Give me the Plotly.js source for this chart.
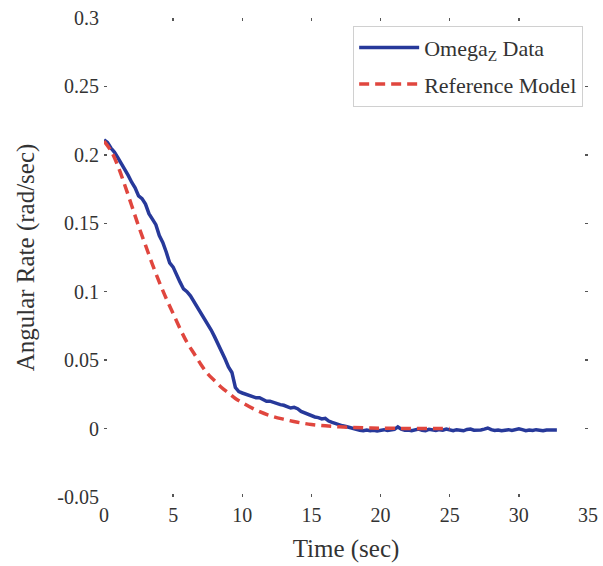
<!DOCTYPE html>
<html>
<head>
<meta charset="utf-8">
<script src="https://cdn.plot.ly/plotly-3.0.1.min.js"></script>
<style>
  html, body { margin: 0; padding: 0; background: #ffffff; }
  #chart { width: 603px; height: 566px; }
</style>
</head>
<body>
<div id="chart"></div>
<script>
// Measured yaw rate (Omega_Z), sampled every 0.25 s
const timeData = [
  0, 0.25, 0.5, 0.75, 1, 1.25, 1.5, 1.75, 2, 2.25, 2.5, 2.75, 3, 3.25, 3.5, 3.75,
  4, 4.25, 4.5, 4.75, 5, 5.25, 5.5, 5.75, 6, 6.25, 6.5, 6.75, 7, 7.25, 7.5, 7.75,
  8, 8.25, 8.5, 8.75, 9, 9.25, 9.5, 9.75, 10, 10.25, 10.5, 10.75, 11, 11.25, 11.5, 11.75,
  12, 12.25, 12.5, 12.75, 13, 13.25, 13.5, 13.75, 14, 14.25, 14.5, 14.75, 15, 15.25, 15.5, 15.75,
  16, 16.25, 16.5, 16.75, 17, 17.25, 17.5, 17.75, 18, 18.25, 18.5, 18.75, 19, 19.25, 19.5, 19.75,
  20, 20.25, 20.5, 20.75, 21, 21.25, 21.5, 21.75, 22, 22.25, 22.5, 22.75, 23, 23.25, 23.5, 23.75,
  24, 24.25, 24.5, 24.75, 25, 25.25, 25.5, 25.75, 26, 26.25, 26.5, 26.75, 27, 27.25, 27.5, 27.75,
  28, 28.25, 28.5, 28.75, 29, 29.25, 29.5, 29.75, 30, 30.25, 30.5, 30.75, 31, 31.25, 31.5, 31.75,
  32, 32.25, 32.5, 32.75
];
const omegaZ = [
  0.211, 0.209, 0.205, 0.202, 0.198, 0.194, 0.190, 0.185, 0.180, 0.176, 0.170, 0.168, 0.164, 0.157, 0.153, 0.149,
  0.141, 0.136, 0.129, 0.121, 0.118, 0.112, 0.107, 0.102, 0.100, 0.097, 0.093, 0.089, 0.085, 0.081, 0.077, 0.072,
  0.067, 0.062, 0.056, 0.051, 0.045, 0.041, 0.030, 0.027, 0.026, 0.025, 0.024, 0.0235, 0.0225, 0.0225, 0.021, 0.020,
  0.020, 0.019, 0.0185, 0.0175, 0.017, 0.016, 0.015, 0.0155, 0.0145, 0.0125, 0.0115, 0.010, 0.009, 0.0085, 0.008, 0.007,
  0.0075, 0.0055, 0.0045, 0.0035, 0.003, 0.002, 0.0015, 0.0008, 0.0, -0.001, -0.0012, -0.0015, -0.001, -0.0015, -0.0012, -0.0018,
  -0.0012, -0.0008, -0.0014, -0.001, -0.0006, 0.0012, -0.0004, -0.0012, -0.001, -0.0016, -0.0008, -0.0004, -0.0012, -0.0015, -0.0006, -0.001,
  -0.0014, -0.0008, -0.0012, -0.0004, -0.001, -0.0016, -0.0008, -0.0012, -0.0016, -0.0006, -0.0004, -0.0012, -0.0014, -0.001, -0.0004, 0.0004,
  -0.0008, -0.0014, -0.001, -0.0016, -0.0012, -0.0008, -0.0014, -0.001, -0.0002, -0.0008, -0.0016, -0.001, -0.0014, -0.0008, -0.0012, -0.0016,
  -0.001, -0.0008, -0.0012, -0.001
];

// Reference model response
const timeModel = [
  0, 0.5, 1, 1.5, 2, 2.5, 3, 3.5, 4, 4.5, 5, 5.5, 6, 6.5, 7, 7.5,
  8, 8.5, 9, 9.5, 10, 11, 12, 13, 14, 15, 16, 17, 18, 19, 20, 22, 25
];
const refModel = [
  0.210, 0.203, 0.192, 0.178, 0.163, 0.148, 0.134, 0.120, 0.107, 0.095, 0.084, 0.073, 0.063, 0.055, 0.047, 0.040,
  0.035, 0.030, 0.026, 0.022, 0.019, 0.0135, 0.0095, 0.0068, 0.0046, 0.003, 0.002, 0.0013, 0.0008, 0.0005, 0.0003, 0.0001, 0.0
];

const xTicks = [0, 5, 10, 15, 20, 25, 30, 35];
const yTicks = [-0.05, 0, 0.05, 0.1, 0.15, 0.2, 0.25, 0.3];
const yTickText = ['-0.05', '0', '0.05', '0.1', '0.15', '0.2', '0.25', '0.3'];

const serif = 'Liberation Serif';

const traces = [
  {
    x: timeData, y: omegaZ, type: 'scatter', mode: 'lines',
    name: 'Omega<sub>Z</sub> Data', legendgroup: 'data',
    line: { color: '#27399a', width: 3.5 }
  },
  {
    x: timeModel, y: refModel, type: 'scatter', mode: 'lines',
    name: 'Reference Model', legendgroup: 'model',
    line: { color: '#e0463e', width: 3.5, dash: '10px,6px', shape: 'spline' }
  }
];

function axisStyle() {
  return {
    showgrid: false, zeroline: false,
    showline: true, linecolor: 'rgba(0,0,0,0)', mirror: 'ticks',
    ticks: 'inside', ticklen: 3, tickwidth: 1.5, tickcolor: '#555555',
    tickfont: { family: 'Liberation Serif', size: 20, color: '#333333', weight: 'normal' }
  };
}

const layout = {
  width: 603, height: 566,
  margin: { l: 104, r: 15, t: 18, b: 69 },
  font: { family: serif, size: 20, color: '#333333' },
  paper_bgcolor: '#ffffff', plot_bgcolor: '#ffffff',
  showlegend: true,
  xaxis: Object.assign(axisStyle(), {
    range: [0, 35], tickmode: 'array', tickvals: xTicks,
    title: { text: 'Time (sec)', font: { family: serif, size: 25, color: '#333333' }, standoff: 14 }
  }),
  yaxis: Object.assign(axisStyle(), {
    range: [-0.05, 0.3], tickmode: 'array', tickvals: yTicks, ticktext: yTickText,
    title: { text: 'Angular Rate (rad/sec)', font: { family: serif, size: 25, color: '#333333' }, standoff: 15 }
  }),
  legend: {
    x: 0.99, xanchor: 'right', y: 0.984, yanchor: 'top',
    bgcolor: '#ffffff', bordercolor: '#d0d0d0', borderwidth: 1,
    font: { family: serif, size: 22, color: '#333333' },
    tracegroupgap: 5, itemwidth: 60
  }
};

Plotly.newPlot('chart', traces, layout, { displayModeBar: false, staticPlot: true });
</script>
</body>
</html>
